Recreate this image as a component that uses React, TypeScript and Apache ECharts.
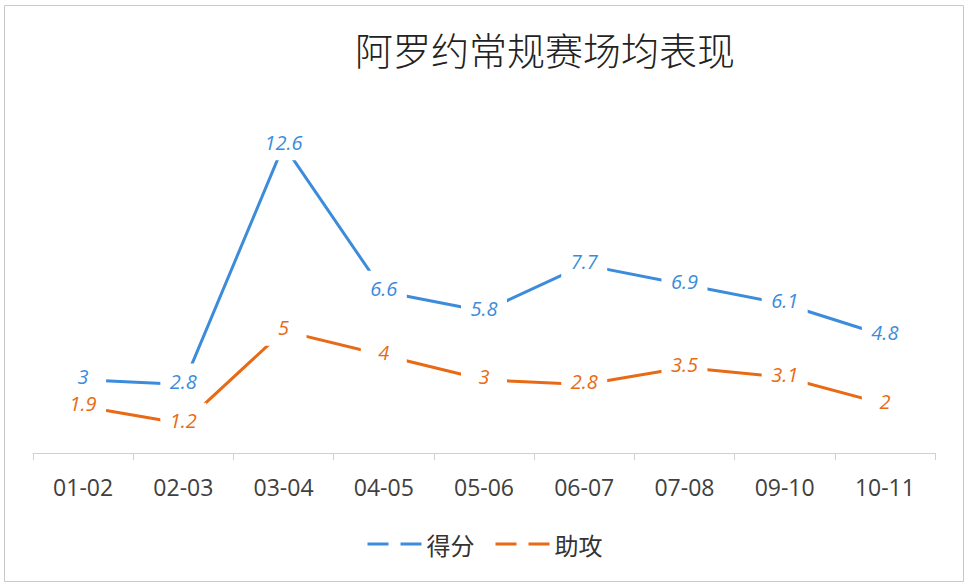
import React, { useEffect, useRef } from "react";
import * as echarts from "echarts";

const titleText = "阿罗约常规赛场均表现";
const categories = ["01-02", "02-03", "03-04", "04-05", "05-06", "06-07", "07-08", "09-10", "10-11"];
const seriesNames = ["得分", "助攻"];
const pointsData = [3, 2.8, 12.6, 6.6, 5.8, 7.7, 6.9, 6.1, 4.8];
const assistsData = [1.9, 1.2, 5, 4, 3, 2.8, 3.5, 3.1, 2];
const seriesColors = ["#3c8cdb", "#e86a14"];

const legendIcon = "path://M0,0H21V3H0Z M33,0H54V3H33Z";

function makeSeries(name: string, data: number[], color: string) {
  return {
    name,
    type: "line",
    data,
    symbol: "circle",
    symbolSize: 1,
    showSymbol: true,
    itemStyle: { color },
    lineStyle: { color, width: 3 },
    label: {
      show: true,
      position: "inside",
      offset: [0, -3],
      color,
      fontFamily: "Open Sans",
      fontStyle: "italic",
      fontSize: 20,
      lineHeight: 20,
      width: 30,
      align: "center",
      padding: [8, 8],
      backgroundColor: "#ffffff",
    },
    emphasis: { disabled: true },
  };
}

export default function App() {
  const ref = useRef<HTMLDivElement>(null);
  useEffect(() => {
    if (!ref.current) return;
    const chart = echarts.init(ref.current, undefined, { renderer: "svg" });
    chart.setOption({
      animation: false,
      backgroundColor: "#ffffff",
      graphic: [
        {
          type: "rect",
          shape: { x: 4.5, y: 5.5, width: 959, height: 576 },
          style: { fill: "none", stroke: "#c8c8c8", lineWidth: 1 },
          z: -1,
        },
        {
          type: "text",
          x: 545,
          y: 48,
          style: {
            text: titleText,
            fontFamily: "Noto Sans CJK SC",
            fontSize: 38,
            fontWeight: 300,
            fill: "#222222",
            textAlign: "center",
            textVerticalAlign: "middle",
          },
        },
      ],
      grid: { left: 33, right: 35, top: 111, bottom: 133, containLabel: false },
      xAxis: {
        type: "category",
        data: categories,
        boundaryGap: true,
        axisLine: { lineStyle: { color: "#d0d0d0", width: 1 } },
        axisTick: { show: true, length: 7, lineStyle: { color: "#d0d0d0" } },
        axisLabel: {
          margin: 22,
          color: "#404040",
          fontFamily: "Open Sans",
          fontSize: 23,
        },
      },
      yAxis: {
        type: "value",
        min: 0,
        max: 14,
        show: false,
        splitLine: { show: false },
      },
      legend: {
        show: true,
        left: "center",
        top: 527,
        icon: legendIcon,
        itemWidth: 54,
        itemHeight: 3,
        itemGap: 21,
        data: seriesNames,
        textStyle: {
          fontFamily: "Noto Sans CJK SC",
          fontSize: 24,
          color: "#333333",
        },
      },
      series: [
        makeSeries(seriesNames[0], pointsData, seriesColors[0]),
        makeSeries(seriesNames[1], assistsData, seriesColors[1]),
      ],
    });
    return () => chart.dispose();
  }, []);
  return (
    <div
      ref={ref}
      style={{ position: "absolute", left: 0, top: 0, width: 970, height: 586 }}
    />
  );
}
